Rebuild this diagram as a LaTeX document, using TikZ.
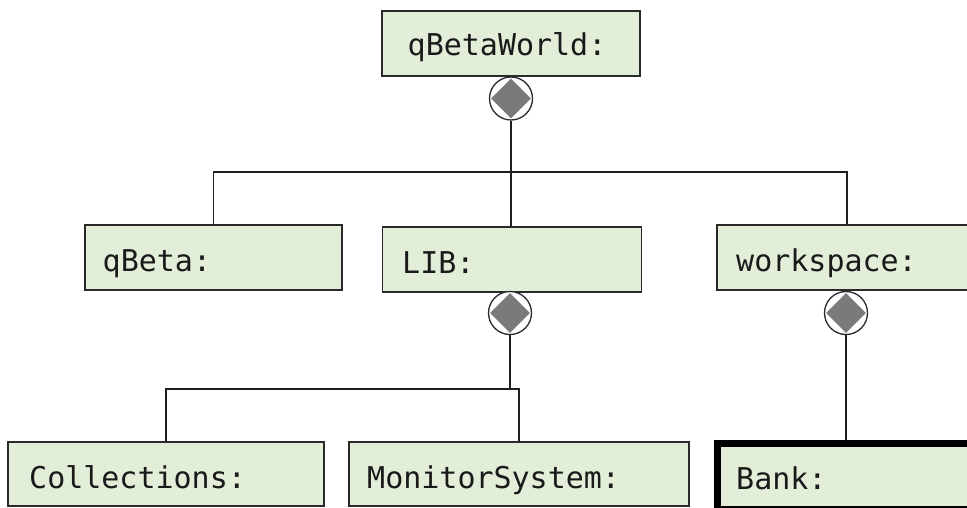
\documentclass[tikz,border=0pt]{standalone}
\usepackage{fontspec}
\newfontfamily\monofont{DejaVu Sans Mono}
\usetikzlibrary{shapes.geometric}

\definecolor{boxfill}{HTML}{E2EED8}
\definecolor{boxline}{HTML}{2A2A2A}
\definecolor{wire}{HTML}{1E1E1E}
\definecolor{diafill}{HTML}{7A7A7A}
\definecolor{txt}{HTML}{1A1A1A}

\tikzset{
  umlbox/.style={draw=boxline, line width=1.5pt, fill=boxfill, rectangle,
    inner sep=0pt},
  bankbox/.style={umlbox, draw=black, line width=7pt},
  lbl/.style={anchor=base west, inner sep=0pt, text=txt,
    font=\monofont\fontsize{30}{36}\selectfont},
  ring/.style={circle, draw=boxline, line width=1.3pt, fill=white,
    minimum size=43pt, inner sep=0pt},
  gem/.style={diamond, fill=diafill, minimum size=40pt, inner sep=0pt},
  conn/.style={draw=wire, line width=1.8pt},
  heavyconn/.style={draw=wire, line width=2.8pt},
}

\begin{document}
\begin{tikzpicture}[x=1pt, y=-1pt]
\useasboundingbox (0,0) rectangle (967,508);
\clip (0,0) rectangle (967,508);
\fill[white] (0,0) rectangle (967,508);

% composite root
\node[umlbox, minimum width=258pt, minimum height=65pt] (world) at (511,43.5) {};
\node[lbl] (world-t) at (407.5,56) {qBetaWorld:};

% second level
\node[umlbox, minimum width=257pt, minimum height=65pt] (qbeta) at (213.5,257.5) {};
\node[lbl] (qbeta-t) at (102.5,271) {qBeta:};
\node[umlbox, minimum width=259pt, minimum height=65pt] (lib) at (512,259.5) {};
\node[lbl] (lib-t) at (402,273) {LIB:};
\node[umlbox, minimum width=260pt, minimum height=65pt] (ws) at (847,257.5) {};
\node[lbl] (ws-t) at (736,271) {workspace:};

% third level
\node[umlbox, minimum width=316pt, minimum height=64pt] (coll) at (166,474) {};
\node[lbl] (coll-t) at (29,488) {Collections:};
\node[umlbox, minimum width=340pt, minimum height=64pt] (mon) at (519,474) {};
\node[lbl] (mon-t) at (367,488) {MonitorSystem:};
\node[bankbox, minimum width=260pt, minimum height=66pt] (bank) at (847.5,476) {};
\node[lbl] (bank-t) at (736,489) {Bank:};

% composition markers
\node[ring] (r1) at (511,98.5) {};
\node[gem] (g1) at (r1.center) {};
\node[ring] (r2) at (510,313) {};
\node[gem] (g2) at (r2.center) {};
\node[ring] (r3) at (846,313) {};
\node[gem] (g3) at (r3.center) {};

% junction points of the buses
\coordinate (j1) at (511,172);
\coordinate (j2) at (510,389);

% connectors
\draw[conn] (r1.south) -- (r1.south |- lib.north);
\draw[conn] (qbeta.north) |- (j1) -| (ws.north);
\draw[heavyconn] (r2.south) -- (j2);
\draw[conn] (coll.north) |- (j2) -| (mon.north);
\draw[conn] (r3.south) -- (r3.south |- bank.north);
\end{tikzpicture}
\end{document}
